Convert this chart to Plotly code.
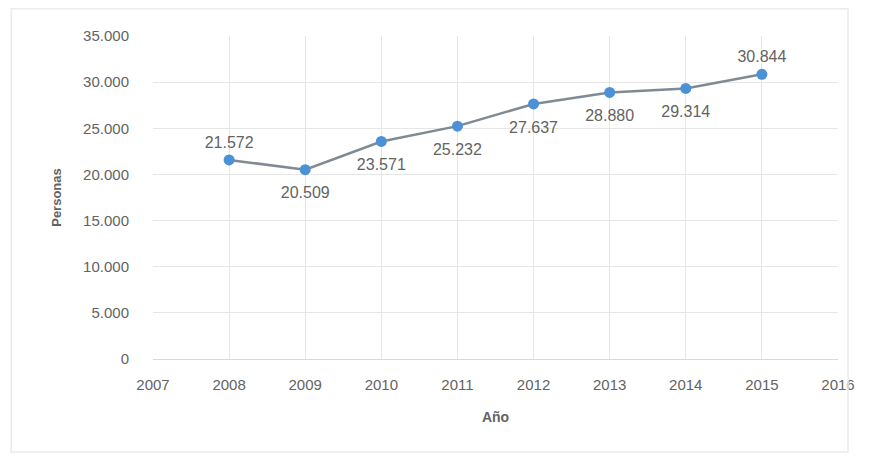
import plotly.graph_objects as go

years = [2008, 2009, 2010, 2011, 2012, 2013, 2014, 2015]
personas = [21572, 20509, 23571, 25232, 27637, 28880, 29314, 30844]
label_pos = ["top center", "bottom center", "bottom center", "bottom center",
             "bottom center", "bottom center", "bottom center", "top center"]
x_ticks = list(range(2007, 2017))
y_ticks = list(range(0, 35001, 5000))

def fmt(v):
    return f"{v:,}".replace(",", ".")

FONT = "Liberation Sans, Arial, sans-serif"
TXT = "#636363"

fig = go.Figure()
# labels (invisible spacer markers control the text offset) - drawn first, under the line
fig.add_trace(go.Scatter(
    x=years, y=personas,
    mode="markers+text",
    marker=dict(size=[11 if p.startswith("top") else 25 for p in label_pos],
                color="rgba(0,0,0,0)", line=dict(width=0)),
    text=[fmt(v) for v in personas],
    textposition=label_pos,
    textfont=dict(family=FONT, size=16, color=TXT),
    cliponaxis=False,
    hoverinfo="skip",
))
fig.add_trace(go.Scatter(
    x=years, y=personas,
    mode="lines+markers",
    line=dict(color="#808a94", width=2.5),
    marker=dict(color="#4b91d6", size=11, line=dict(width=0)),
    hoverinfo="skip",
))

fig.update_layout(
    width=866, height=449,
    margin=dict(l=145, r=36, t=28, b=98),
    paper_bgcolor="white", plot_bgcolor="white",
    showlegend=False,
    font=dict(family=FONT, color=TXT),
    xaxis=dict(
        range=[2007, 2016], tickvals=x_ticks, ticktext=[str(t) for t in x_ticks],
        showgrid=True, gridcolor="#e6e6e6", gridwidth=1,
        showline=True, linecolor="#d9d9d9", zeroline=False,
        tickfont=dict(size=15, color=TXT),
        ticks="outside", ticklen=12, tickcolor="rgba(0,0,0,0)",
        title=dict(text="<b>Año</b>", font=dict(size=14, color=TXT), standoff=20),
    ),
    yaxis=dict(
        range=[0, 35000], tickvals=y_ticks, ticktext=[fmt(t) for t in y_ticks],
        showgrid=True, gridcolor="#e6e6e6", gridwidth=1,
        zeroline=False, showline=False,
        tickfont=dict(size=15, color=TXT),
        ticks="outside", ticklen=20, tickcolor="rgba(0,0,0,0)",
        title=dict(text="<b>Personas</b>", font=dict(size=13, color=TXT), standoff=18),
    ),
    shapes=[dict(type="rect", xref="paper", yref="paper",
                 x0=-0.207, x1=1.0146, y0=-0.288, y1=1.084,
                 line=dict(color="#ececec", width=1.5))],
)

fig.write_html("out.html")
